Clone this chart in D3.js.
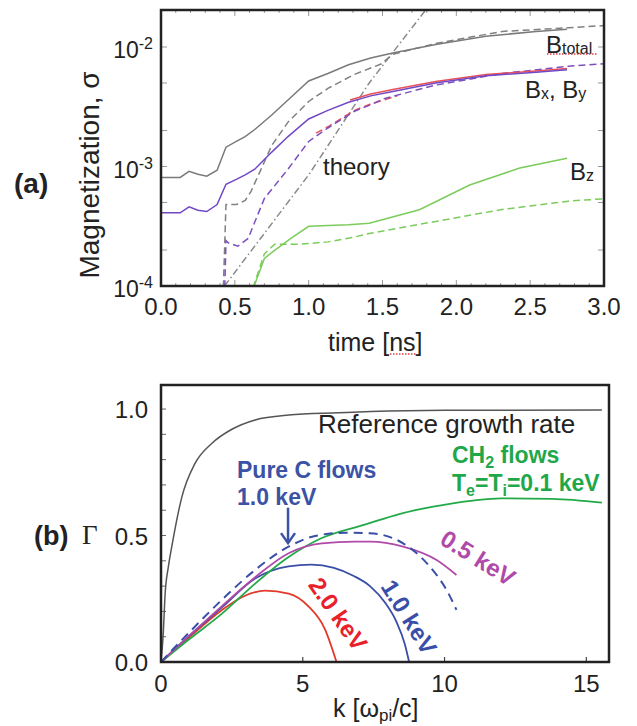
<!DOCTYPE html>
<html>
<head>
<meta charset="utf-8">
<script src="https://cdn.jsdelivr.net/npm/d3@7"></script>
<style>
  body { margin: 0; background: #fff; }
  svg { display: block; font-family: "Liberation Sans", Arial, Helvetica, sans-serif; }
</style>
</head>
<body>
<svg width="637" height="726"></svg>
<script>
// ---------- panel (a): magnetization vs time ----------
var tSolid = [0, 0.13, 0.19, 0.25, 0.31, 0.38, 0.44, 0.51, 0.57, 0.635, 0.75, 0.86, 1.0, 1.13, 1.27, 1.42, 1.57, 1.86, 2.2, 2.54, 2.75];
var totalSolid = [8.1e-4, 8.1e-4, 9.1e-4, 8.6e-4, 8.3e-4, 9.3e-4, 1.45e-3, 1.62e-3, 1.78e-3, 2.04e-3, 2.7e-3, 3.6e-3, 5.2e-3, 6.0e-3, 7.1e-3, 8.1e-3, 8.9e-3, 1.05e-2, 1.23e-2, 1.35e-2, 1.41e-2];
var xySolid = [4.1e-4, 4.1e-4, 4.6e-4, 4.3e-4, 4.2e-4, 4.8e-4, 7.1e-4, 7.8e-4, 8.5e-4, 9.5e-4, 1.32e-3, 1.78e-3, 2.5e-3, 2.95e-3, 3.45e-3, 3.9e-3, 4.25e-3, 5.0e-3, 5.75e-3, 6.15e-3, 6.45e-3];

var tTotalDash = [0.42, 0.44, 0.51, 0.57, 0.61, 0.66, 0.75, 0.86, 1.0, 1.13, 1.31, 1.49, 1.57, 1.86, 2.31, 2.76, 3.0];
var totalDash = [7.9e-5, 4.8e-4, 4.8e-4, 5.2e-4, 6.2e-4, 8.5e-4, 1.5e-3, 2.35e-3, 3.5e-3, 4.5e-3, 5.9e-3, 7.2e-3, 8.7e-3, 1.07e-2, 1.35e-2, 1.45e-2, 1.51e-2];

var tXyDash = [0.43, 0.44, 0.455, 0.52, 0.59, 0.70, 0.86, 1.0, 1.13, 1.31, 1.41, 1.51, 1.86, 2.31, 2.76, 3.0];
var xyDash = [7.9e-5, 2.4e-4, 2.3e-4, 2.15e-4, 2.5e-4, 5.4e-4, 9.5e-4, 1.62e-3, 2.1e-3, 2.9e-3, 3.25e-3, 3.7e-3, 4.8e-3, 6.0e-3, 6.9e-3, 7.25e-3];

var tRedSolid = [1.28, 1.42, 1.57, 1.86, 2.2, 2.54, 2.75];
var redSolid = [3.6e-3, 4.05e-3, 4.4e-3, 5.15e-3, 5.9e-3, 6.3e-3, 6.6e-3];
var tRedDash = [1.05, 1.13, 1.31, 1.41, 1.6];
var redDash = [1.9e-3, 2.15e-3, 2.95e-3, 3.3e-3, 3.9e-3];

var tZSolid = [0.60, 0.70, 0.76, 0.88, 1.0, 1.27, 1.41, 1.75, 2.09, 2.43, 2.75];
var zSolid = [7.9e-5, 1.7e-4, 1.95e-4, 2.5e-4, 3.16e-4, 3.25e-4, 3.35e-4, 4.35e-4, 7.0e-4, 9.7e-4, 1.17e-3];
var tZDash = [0.60, 0.70, 0.77, 0.95, 1.13, 1.31, 1.41, 1.86, 2.31, 2.76, 3.0];
var zDash = [7.9e-5, 1.86e-4, 2.24e-4, 2.24e-4, 2.34e-4, 2.57e-4, 2.75e-4, 3.47e-4, 4.37e-4, 5.13e-4, 5.37e-4];

var tTheory = [0.43, 1.0, 1.41, 1.8];
var theory = [1.0e-4, 8.5e-4, 5.0e-3, 2.1e-2];

var timeTicks = [0, 0.5, 1, 1.5, 2, 2.5, 3];
var sigmaTicks = [1e-4, 1e-3, 1e-2];
var sigmaExp = ["-4", "-3", "-2"];

// ---------- panel (b): growth rate vs k ----------
var kRef = [0, 0.08, 0.14, 0.26, 0.38, 0.73, 1.2, 1.79, 2.5, 3.32, 4.5, 6.26, 7.4, 10, 15.55];
var gRef = [0, 0.113, 0.26, 0.377, 0.456, 0.65, 0.785, 0.864, 0.92, 0.957, 0.976, 0.985, 0.99, 0.995, 0.996];

var kCH2 = [0, 0.96, 2.14, 3.32, 4.5, 5.67, 7.25, 8.4, 9.6, 11.0, 12.0, 13.8, 15.55];
var gCH2 = [0, 0.087, 0.19, 0.31, 0.415, 0.49, 0.545, 0.585, 0.614, 0.638, 0.647, 0.645, 0.63];

var k05 = [0, 0.96, 2.14, 3.32, 4.5, 5.67, 6.84, 7.37, 8.54, 9.72, 10.42];
var g05 = [0, 0.1, 0.22, 0.335, 0.43, 0.469, 0.476, 0.476, 0.456, 0.403, 0.344];

var k10 = [0, 0.96, 2.14, 3.32, 4.5, 5.3, 6.1, 6.8, 7.37, 7.9, 8.3, 8.6, 8.75];
var g10 = [0, 0.1, 0.215, 0.33, 0.378, 0.385, 0.372, 0.34, 0.30, 0.235, 0.16, 0.07, 0];

var k20 = [0, 0.96, 2.14, 2.96, 3.67, 4.5, 5.2, 5.78, 6.19];
var g20 = [0, 0.094, 0.205, 0.262, 0.282, 0.27, 0.22, 0.13, 0];

var kPureC = [0, 0.96, 2.14, 3.32, 4.5, 5.43, 6.49, 7.37, 8.54, 9.48, 10.07, 10.42];
var gPureC = [0, 0.113, 0.245, 0.364, 0.456, 0.498, 0.511, 0.509, 0.469, 0.377, 0.285, 0.206];

var kTicks = [0, 5, 10, 15];
var gammaTicks = [0, 0.5, 1.0];

// pair up x and y arrays
function zip(a, b) {
    return a.map(function (v, i) { return [v, b[i]]; });
}

var svg = d3.select("svg");

// ================= panel (a) =================
var xa = d3.scaleLinear().domain([0, 3]).range([161, 604]);
var ya = d3.scaleLog().domain([1e-4, 0.0204]).range([286, 10]);

svg.append("clipPath").attr("id", "clipA")
    .append("rect").attr("x", 161).attr("y", 10).attr("width", 443).attr("height", 276);

// minor / major ticks, inside the frame
var gA = svg.append("g");
d3.range(0, 3.01, 0.1).forEach(function (t) {
    var major = Math.abs(t * 2 - Math.round(t * 2)) < 1e-6;
    var len = major ? 6 : 3;
    gA.append("line").attr("x1", xa(t)).attr("x2", xa(t)).attr("y1", 286).attr("y2", 286 - len)
        .attr("stroke", "#999").attr("stroke-width", 1);
    gA.append("line").attr("x1", xa(t)).attr("x2", xa(t)).attr("y1", 10).attr("y2", 10 + len)
        .attr("stroke", "#999").attr("stroke-width", 1);
});
[1e-4, 2e-4, 5e-4, 1e-3, 2e-3, 5e-3, 1e-2].forEach(function (v) {
    gA.append("line").attr("x1", 161).attr("x2", 167).attr("y1", ya(v)).attr("y2", ya(v))
        .attr("stroke", "#999").attr("stroke-width", 1);
    gA.append("line").attr("x1", 604).attr("x2", 598).attr("y1", ya(v)).attr("y2", ya(v))
        .attr("stroke", "#999").attr("stroke-width", 1);
});

var lineA = d3.line()
    .x(function (d) { return xa(d[0]); })
    .y(function (d) { return ya(d[1]); });

var seriesA = [
    {d: zip(tTheory, theory), c: "#8a8a8a", dash: "7,3,1.5,3"},
    {d: zip(tTotalDash, totalDash), c: "#808080", dash: "7,4"},
    {d: zip(tSolid, totalSolid), c: "#7a7a7a", dash: null},
    {d: zip(tRedDash, redDash), c: "#e8505a", dash: "7,4"},
    {d: zip(tXyDash, xyDash), c: "#7c50c0", dash: "7,4"},
    {d: zip(tRedSolid, redSolid), c: "#e8505a", dash: null},
    {d: zip(tSolid, xySolid), c: "#7048c4", dash: null},
    {d: zip(tZDash, zDash), c: "#7ccc5c", dash: "7,4"},
    {d: zip(tZSolid, zSolid), c: "#7ccc5c", dash: null}
];

var plotA = svg.append("g").attr("clip-path", "url(#clipA)");
plotA.selectAll("path")
    .data(seriesA)
    .enter().append("path")
    .attr("d", function (s) { return lineA(s.d); })
    .attr("fill", "none")
    .attr("stroke", function (s) { return s.c; })
    .attr("stroke-width", 1.5)
    .attr("stroke-dasharray", function (s) { return s.dash; });

// frame
svg.append("rect").attr("x", 161).attr("y", 10).attr("width", 443).attr("height", 276)
    .attr("fill", "none").attr("stroke", "#222").attr("stroke-width", 2.5);

// x tick labels
svg.append("g").selectAll("text")
    .data(timeTicks)
    .enter().append("text")
    .attr("x", function (d) { return xa(d); })
    .attr("y", 315)
    .attr("text-anchor", "middle")
    .attr("font-size", 24)
    .attr("fill", "#222")
    .text(function (d) { return d3.format(".1f")(d); });

// y tick labels with exponents
var yLab = svg.append("g").selectAll("text")
    .data(sigmaTicks)
    .enter().append("text")
    .attr("x", 153)
    .attr("y", function (d) { return ya(d) + 11; })
    .attr("text-anchor", "end")
    .attr("font-size", 23)
    .attr("fill", "#222");
yLab.append("tspan").text("10");
yLab.append("tspan").attr("dy", -9).attr("font-size", 16)
    .text(function (d, i) { return sigmaExp[i]; });

svg.append("text")
    .attr("transform", "translate(99,175) rotate(-90)")
    .attr("text-anchor", "middle")
    .attr("font-size", 28)
    .attr("fill", "#222")
    .text("Magnetization, σ");

svg.append("text").attr("x", 14).attr("y", 193)
    .attr("font-size", 28).attr("font-weight", "bold").attr("fill", "#222").text("(a)");

var tl = svg.append("text").attr("x", 328).attr("y", 351)
    .attr("font-size", 25).attr("fill", "#222");
tl.append("tspan").text("time [");
tl.append("tspan").text("ns");
tl.append("tspan").text("]");
svg.append("line").attr("x1", 390).attr("x2", 417).attr("y1", 354).attr("y2", 354)
    .attr("stroke", "#e04040").attr("stroke-width", 1.5).attr("stroke-dasharray", "1.5,1.5");

// curve labels
svg.append("text").attr("x", 323).attr("y", 175)
    .attr("font-size", 24).attr("fill", "#222").text("theory");

var bt = svg.append("text").attr("x", 546).attr("y", 53).attr("font-size", 24).attr("fill", "#222");
bt.append("tspan").text("B");
bt.append("tspan").attr("font-size", 16).attr("dy", 1).text("total");
svg.append("line").attr("x1", 547).attr("x2", 597).attr("y1", 54).attr("y2", 54)
    .attr("stroke", "#e04040").attr("stroke-width", 1.5).attr("stroke-dasharray", "1.5,1.5");

var bxy = svg.append("text").attr("x", 525).attr("y", 98).attr("font-size", 24).attr("fill", "#222");
bxy.append("tspan").text("B");
bxy.append("tspan").attr("font-size", 16).attr("dy", 1).text("x");
bxy.append("tspan").attr("dy", -1).text(", B");
bxy.append("tspan").attr("font-size", 16).attr("dy", 1).text("y");

var bz = svg.append("text").attr("x", 570).attr("y", 180).attr("font-size", 24).attr("fill", "#222");
bz.append("tspan").text("B");
bz.append("tspan").attr("font-size", 16).attr("dy", 1).text("z");

// ================= panel (b) =================
var xb = d3.scaleLinear().domain([0, 15.8]).range([161, 609]);
var yb = d3.scaleLinear().domain([0, 1.095]).range([662, 385]);

svg.append("clipPath").attr("id", "clipB")
    .append("rect").attr("x", 161).attr("y", 385).attr("width", 448).attr("height", 277);

var gB = svg.append("g");
d3.range(0, 1.05, 0.1).forEach(function (v) {
    gB.append("line").attr("x1", 161).attr("x2", 166).attr("y1", yb(v)).attr("y2", yb(v))
        .attr("stroke", "#666").attr("stroke-width", 1);
});
kTicks.forEach(function (k) {
    gB.append("line").attr("x1", xb(k)).attr("x2", xb(k)).attr("y1", 662).attr("y2", 657)
        .attr("stroke", "#444").attr("stroke-width", 1.2);
});

var lineB = d3.line()
    .curve(d3.curveMonotoneX)
    .x(function (d) { return xb(d[0]); })
    .y(function (d) { return yb(d[1]); });

var seriesB = [
    {d: zip(kRef, gRef), c: "#555", dash: null, w: 1.5},
    {d: zip(k20, g20), c: "#e23a2a", dash: null, w: 1.8},
    {d: zip(k10, g10), c: "#3a4ea8", dash: null, w: 1.8},
    {d: zip(kCH2, gCH2), c: "#22aa48", dash: null, w: 1.8},
    {d: zip(k05, g05), c: "#b04aa8", dash: null, w: 1.8},
    {d: zip(kPureC, gPureC), c: "#3a4ea8", dash: "9,6", w: 2}
];

var plotB = svg.append("g").attr("clip-path", "url(#clipB)");
plotB.selectAll("path")
    .data(seriesB)
    .enter().append("path")
    .attr("d", function (s) { return lineB(s.d); })
    .attr("fill", "none")
    .attr("stroke", function (s) { return s.c; })
    .attr("stroke-width", function (s) { return s.w; })
    .attr("stroke-dasharray", function (s) { return s.dash; });

svg.append("rect").attr("x", 161).attr("y", 385).attr("width", 448).attr("height", 277)
    .attr("fill", "none").attr("stroke", "#222").attr("stroke-width", 2.5);

svg.append("g").selectAll("text")
    .data(kTicks)
    .enter().append("text")
    .attr("x", function (d) { return xb(d); })
    .attr("y", 692)
    .attr("text-anchor", "middle")
    .attr("font-size", 24)
    .attr("fill", "#222")
    .text(function (d) { return d; });

svg.append("g").selectAll("text")
    .data(gammaTicks)
    .enter().append("text")
    .attr("x", 148)
    .attr("y", function (d) { return yb(d) + 9; })
    .attr("text-anchor", "end")
    .attr("font-size", 24)
    .attr("fill", "#222")
    .text(function (d) { return d3.format(".1f")(d); });

svg.append("text").attr("x", 82).attr("y", 544)
    .attr("font-family", "'Liberation Serif', 'DejaVu Serif', serif")
    .attr("font-size", 27).attr("fill", "#222").text("Γ");

svg.append("text").attr("x", 34).attr("y", 545)
    .attr("font-size", 27).attr("font-weight", "bold").attr("fill", "#222").text("(b)");

var kl = svg.append("text").attr("x", 333).attr("y", 717).attr("font-size", 25).attr("fill", "#222");
kl.append("tspan").text("k [ω");
kl.append("tspan").attr("font-size", 17).attr("dy", 4).text("pi");
kl.append("tspan").attr("dy", -4).text("/c]");

// annotations
svg.append("text").attr("x", 318).attr("y", 433)
    .attr("font-size", 26).attr("fill", "#222").text("Reference growth rate");

var blue = "#3b52a5", green = "#1fa84a";
svg.append("text").attr("x", 237).attr("y", 478)
    .attr("font-size", 23).attr("font-weight", "bold").attr("fill", blue).text("Pure C flows");
svg.append("text").attr("x", 237).attr("y", 505)
    .attr("font-size", 23).attr("font-weight", "bold").attr("fill", blue).text("1.0 keV");

// arrow to the dashed curve
var ax = xb(4.48);
svg.append("line").attr("x1", ax).attr("x2", ax).attr("y1", yb(0.61)).attr("y2", yb(0.47))
    .attr("stroke", blue).attr("stroke-width", 2.5);
svg.append("path")
    .attr("d", "M" + (ax - 7) + "," + (yb(0.47) - 10) + "L" + ax + "," + yb(0.47) + "L" + (ax + 7) + "," + (yb(0.47) - 10))
    .attr("fill", "none").attr("stroke", blue).attr("stroke-width", 2.5);

var ch = svg.append("text").attr("x", 452).attr("y", 463)
    .attr("font-size", 23).attr("font-weight", "bold").attr("fill", green);
ch.append("tspan").text("CH");
ch.append("tspan").attr("font-size", 16).attr("dy", 5).text("2");
ch.append("tspan").attr("dy", -5).text(" flows");

var te = svg.append("text").attr("x", 452).attr("y", 491)
    .attr("font-size", 23).attr("font-weight", "bold").attr("fill", green);
te.append("tspan").text("T");
te.append("tspan").attr("font-size", 16).attr("dy", 5).text("e");
te.append("tspan").attr("dy", -5).text("=T");
te.append("tspan").attr("font-size", 16).attr("dy", 5).text("i");
te.append("tspan").attr("dy", -5).text("=0.1 keV");

var rotLabels = [
    {t: "0.5 keV", x: 478, y: 558, a: 32, c: "#b04aa8"},
    {t: "1.0 keV", x: 409, y: 617, a: 58, c: "#3a4ea8"},
    {t: "2.0 keV", x: 338, y: 614, a: 55, c: "#e8202a"}
];
svg.append("g").selectAll("text")
    .data(rotLabels)
    .enter().append("text")
    .attr("transform", function (d) { return "translate(" + d.x + "," + d.y + ") rotate(" + d.a + ")"; })
    .attr("text-anchor", "middle")
    .attr("dy", "0.35em")
    .attr("font-size", 24)
    .attr("font-weight", "bold")
    .attr("fill", function (d) { return d.c; })
    .text(function (d) { return d.t; });
</script>
</body>
</html>
